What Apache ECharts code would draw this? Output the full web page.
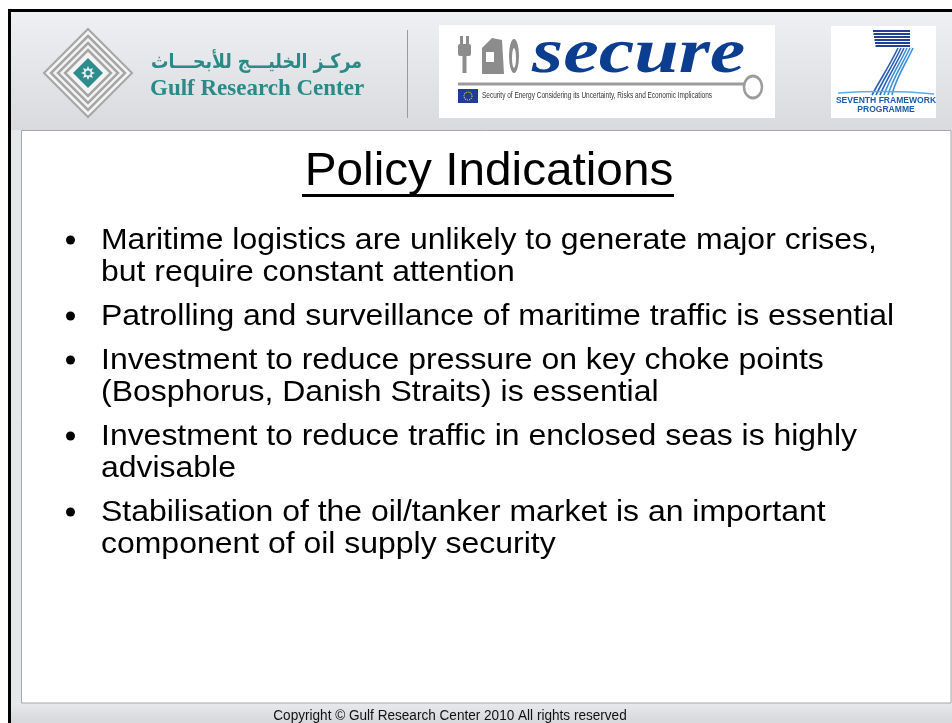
<!DOCTYPE html>
<html>
<head>
<meta charset="utf-8">
<script src="https://cdn.jsdelivr.net/npm/echarts@6/dist/echarts.min.js"></script>
<style>html,body{margin:0;padding:0;background:#fff}#c{width:952px;height:723px}</style>
</head>
<body>
<div id="c"></div>
<script>
// ---- content ----
const titleText = "Policy Indications";
const bullets = [
  ["Maritime logistics are unlikely to generate major crises,", "but require constant attention"],
  ["Patrolling and surveillance of maritime traffic is essential"],
  ["Investment to reduce pressure on key choke points", "(Bosphorus, Danish Straits) is essential"],
  ["Investment to reduce traffic in enclosed seas is highly", "advisable"],
  ["Stabilisation of the oil/tanker market is an important", "component of oil supply security"]
];
const orgArabic = "مركـز الخليـــج للأبحـــاث";
const orgName = "Gulf Research Center";
const secureWord = "secure";
const secureTagline = "Security of Energy Considering its Uncertainty, Risks and Economic Implications";
const fp7Lines = ["SEVENTH FRAMEWORK", "PROGRAMME"];
const copyrightText = "Copyright © Gulf Research Center 2010 All rights reserved";

// ---- drawing ----
const chart = echarts.init(document.getElementById('c'), null, {renderer: 'canvas'});
const SANS = '"Liberation Sans", Arial, sans-serif';
const g = [];

function grad(c1, c2) {
  return new echarts.graphic.LinearGradient(0, 0, 0, 1, [{offset: 0, color: c1}, {offset: 1, color: c2}]);
}
function ellipse(cx, cy, rx, ry, style) {
  return {type: 'circle', x: cx, y: cy, scaleX: rx / ry, shape: {cx: 0, cy: 0, r: ry}, style: style};
}
function starPts(cx, cy, n, r, r0) {
  const p = [];
  for (let i = 0; i < n * 2; i++) {
    const a = Math.PI * i / n - Math.PI / 2, rr = i % 2 ? r0 : r;
    p.push([cx + rr * Math.cos(a), cy + rr * Math.sin(a)]);
  }
  return p;
}

// background panels
g.push({type: 'rect', shape: {x: 11, y: 12, width: 941, height: 711}, style: {fill: '#e6e7ea'}});
g.push({type: 'rect', shape: {x: 11, y: 12, width: 941, height: 118}, style: {fill: grad('#eef0f3', '#d9dadd')}});
g.push({type: 'rect', shape: {x: 11, y: 703, width: 941, height: 20}, style: {fill: grad('#e8e9ec', '#d6d7da')}});
// black frame
g.push({type: 'rect', shape: {x: 8, y: 9, width: 944, height: 3}, style: {fill: '#000'}});
g.push({type: 'rect', shape: {x: 8, y: 9, width: 3, height: 714}, style: {fill: '#000'}});
// white content box
g.push({type: 'rect', shape: {x: 21.5, y: 130.5, width: 929.5, height: 572.5}, style: {fill: '#fff', stroke: '#a8a8a8', lineWidth: 1}});

// GRC logo (diamond)
const cx = 88, cy = 73;
[44, 37, 30, 23].forEach((r, i) => {
  g.push({type: 'polygon', shape: {points: [[cx, cy - r], [cx + r, cy], [cx, cy + r], [cx - r, cy]]},
    style: {fill: i === 0 ? '#f4f4f4' : 'none', stroke: '#a6a6a6', lineWidth: i === 0 ? 2 : 2.5}});
});
g.push({type: 'polygon', shape: {points: [[cx, cy - 15], [cx + 15, cy], [cx, cy + 15], [cx - 15, cy]]}, style: {fill: '#2f8c8c'}});
g.push({type: 'polygon', shape: {points: starPts(cx, cy, 8, 7, 4)}, style: {fill: '#dff1f0'}});
g.push({type: 'circle', shape: {cx: cx, cy: cy, r: 2.5}, style: {fill: '#2f8c8c'}});

g.push({type: 'text', x: 362, y: 63, scaleX: 0.87, style: {text: orgArabic, x: 0, y: 0, align: 'right', verticalAlign: 'middle',
  font: 'bold 20px "DejaVu Sans", sans-serif', fill: '#2a8a87'}});
g.push({type: 'text', style: {text: orgName, x: 150, y: 89, align: 'left', verticalAlign: 'middle',
  font: 'bold 23px "Liberation Serif", "Times New Roman", serif', fill: '#2a8a87'}});
g.push({type: 'line', shape: {x1: 407.5, y1: 30, x2: 407.5, y2: 118}, style: {stroke: '#9a9a9a', lineWidth: 1}});

// secure logo
g.push({type: 'rect', shape: {x: 439, y: 25, width: 336, height: 93}, style: {fill: '#fff'}});
// plug
g.push({type: 'rect', shape: {x: 458, y: 44, width: 13, height: 12, r: 2}, style: {fill: '#8c8c8c'}});
g.push({type: 'rect', shape: {x: 460, y: 36, width: 3, height: 9}, style: {fill: '#8c8c8c'}});
g.push({type: 'rect', shape: {x: 466, y: 36, width: 3, height: 9}, style: {fill: '#8c8c8c'}});
g.push({type: 'rect', shape: {x: 462.5, y: 55, width: 4, height: 18}, style: {fill: '#8c8c8c'}});
// nozzle
g.push({type: 'polygon', shape: {points: [[482, 48], [492, 38], [502, 40], [504, 74], [482, 74]]}, style: {fill: '#8c8c8c'}});
g.push({type: 'rect', shape: {x: 486, y: 52, width: 8, height: 10}, style: {fill: '#fff'}});
// flame
g.push(ellipse(514, 56, 5, 17, {fill: '#8c8c8c'}));
g.push(ellipse(514, 58, 2, 10, {fill: '#fff'}));
g.push({type: 'text', x: 532, y: 55, scaleY: 0.8, style: {text: secureWord, x: 0, y: 0, align: 'left', verticalAlign: 'middle',
  font: 'italic bold 80px "Liberation Serif", "Times New Roman", serif', fill: '#0b3d91'}});
g.push({type: 'line', shape: {x1: 458, y1: 84, x2: 744, y2: 84}, style: {stroke: '#9c9c9c', lineWidth: 3}});
g.push(ellipse(753, 87, 9, 11, {fill: 'none', stroke: '#9c9c9c', lineWidth: 3}));
g.push({type: 'rect', shape: {x: 458, y: 89, width: 20, height: 14}, style: {fill: '#1f3c99'}});
g.push({type: 'circle', shape: {cx: 468, cy: 96, r: 4}, style: {fill: 'none', stroke: '#f5d200', lineWidth: 1.2, lineDash: [1, 1]}});
g.push({type: 'text', x: 482, y: 96, scaleX: 0.72, style: {text: secureTagline, x: 0, y: 0, align: 'left', verticalAlign: 'middle',
  font: '9px ' + SANS, fill: '#333'}});

// FP7 logo
g.push({type: 'rect', shape: {x: 831, y: 26, width: 105, height: 92}, style: {fill: '#fff'}});
for (let i = 0; i < 6; i++) {
  g.push({type: 'line', shape: {x1: 873 + i * 0.5, y1: 31 + i * 3, x2: 910, y2: 31 + i * 3}, style: {stroke: '#223f96', lineWidth: 1.8}});
}
for (let i = 0; i < 6; i++) {
  g.push({type: 'bezierCurve', shape: {x1: 898 + i * 3, y1: 48, cpx1: 890 + i * 3, cpy1: 65, cpx2: 880 + i * 3, cpy2: 80, x2: 872 + i * 4, y2: 95},
    style: {stroke: i < 3 ? '#2a5fb5' : '#3d8fd8', lineWidth: 1.6, fill: 'none'}});
}
g.push({type: 'bezierCurve', shape: {x1: 838, y1: 93, cpx1: 870, cpy1: 91, cpx2: 905, cpy2: 91, x2: 934, y2: 94},
  style: {stroke: '#5aaee8', lineWidth: 1.5, fill: 'none'}});
fp7Lines.forEach((t, i) => {
  g.push({type: 'text', x: 886, y: 100.5 + i * 9, scaleX: 0.95, style: {text: t, x: 0, y: 0, align: 'center', verticalAlign: 'middle',
    font: 'bold 9px ' + SANS, fill: '#1d5aa8'}});
});

// title
g.push({type: 'text', x: 489, y: 172, scaleX: 1.037, style: {text: titleText, x: 0, y: 0, align: 'center', verticalAlign: 'middle',
  font: '46px ' + SANS, fill: '#000'}});
g.push({type: 'rect', shape: {x: 302, y: 194, width: 372, height: 3}, style: {fill: '#000'}});

// bullets
const FONT = 30, LINE = 32, GAP = 12, TOP = 251;
let base = TOP;
bullets.forEach(lines => {
  g.push({type: 'circle', shape: {cx: 70.5, cy: base - 11, r: 4.5}, style: {fill: '#000'}});
  lines.forEach((t, j) => {
    g.push({type: 'text', x: 101, y: base - FONT * 0.35, scaleX: 1.065, style: {text: t, x: 0, y: 0, align: 'left', verticalAlign: 'middle',
      font: FONT + 'px ' + SANS, fill: '#000'}});
    base += LINE;
  });
  base += GAP;
});

// footer
g.push({type: 'text', x: 450, y: 716, scaleX: 0.97, style: {text: copyrightText, x: 0, y: 0, align: 'center', verticalAlign: 'middle',
  font: '14px ' + SANS, fill: '#111'}});

chart.setOption({backgroundColor: '#ffffff', animation: false, graphic: {elements: g}});
</script>
</body>
</html>
